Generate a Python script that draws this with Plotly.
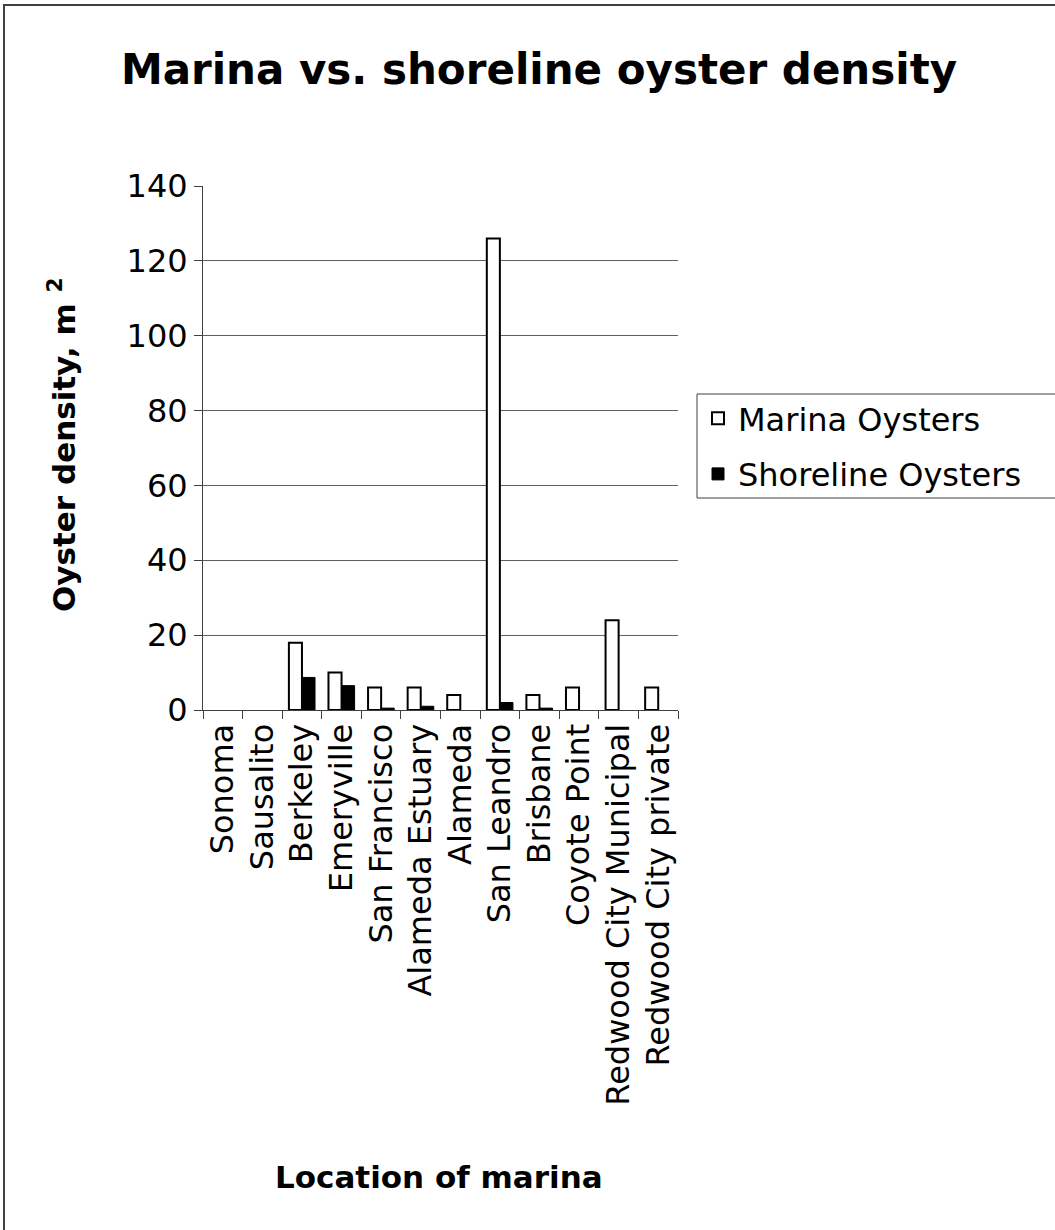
import plotly.graph_objects as go

# Marina sites, north to south
locations = ["Sonoma", "Sausalito", "Berkeley", "Emeryville", "San Francisco",
             "Alameda Estuary", "Alameda", "San Leandro", "Brisbane",
             "Coyote Point", "Redwood City Municipal", "Redwood City private"]

# Oyster density per m^2
marina_oysters = [0, 0, 18, 10, 6, 6, 4, 126, 4, 6, 24, 6]
shoreline_oysters = [0, 0, 8.7, 6.5, 0.5, 1, 0, 2, 0.5, 0, 0, 0]

W, H = 1055, 1230
L, R, T, B = 203, 678, 186, 710
pw, ph = R - L, B - T

FONT = "DejaVu Sans, Arial, sans-serif"


def nonzero(values):
    # empty sites get no bar at all (not even an outline)
    return [v if v > 0 else None for v in values]


def px_x(x):
    return (x - L) / pw


def px_y(y):
    return (B - y) / ph


fig = go.Figure()
fig.add_trace(go.Bar(
    x=locations, y=nonzero(marina_oysters), name="Marina Oysters",
    legendgroup="marina",
    marker=dict(color="white", line=dict(color="black", width=2)),
))
fig.add_trace(go.Bar(
    x=locations, y=nonzero(shoreline_oysters), name="Shoreline Oysters",
    legendgroup="shoreline",
    marker=dict(color="black", line=dict(color="black", width=1)),
))

# outer chart frame
fig.add_shape(type="rect", xref="paper", yref="paper",
              x0=px_x(4), x1=px_x(W + 10), y0=px_y(H + 10), y1=px_y(5),
              line=dict(color="#404040", width=2), fillcolor="rgba(0,0,0,0)",
              layer="below")
# legend frame, running off the right edge
fig.add_shape(type="rect", xref="paper", yref="paper",
              x0=px_x(697), x1=px_x(W + 10), y0=px_y(498), y1=px_y(394),
              line=dict(color="#404040", width=1), fillcolor="white",
              layer="below")

# axis titles
fig.add_annotation(text="<b>Location of marina</b>", xref="paper", yref="paper",
                   x=px_x(439), y=px_y(1177), xanchor="center", yanchor="middle",
                   showarrow=False, font=dict(size=31, family=FONT, color="black"))
fig.add_annotation(text="<b>Oyster density, m <sup>2</sup></b>", xref="paper", yref="paper",
                   x=px_x(62), y=px_y(445), xanchor="center", yanchor="middle",
                   textangle=-90, showarrow=False,
                   font=dict(size=31, family=FONT, color="black"))

fig.update_layout(
    width=W, height=H,
    margin=dict(l=L, r=W - R, t=T, b=H - B, autoexpand=False),
    paper_bgcolor="white", plot_bgcolor="white",
    font=dict(family=FONT, color="black", size=31),
    barmode="group", bargap=0.34, bargroupgap=0,
    title=dict(text="<b>Marina vs. shoreline oyster density</b>",
               x=539 / W, xanchor="center", y=1 - 69 / H, yanchor="middle",
               font=dict(size=42, family=FONT)),
    showlegend=True,
    legend=dict(x=px_x(698), xanchor="left", y=px_y(391), yanchor="top",
                borderwidth=0, bgcolor="rgba(0,0,0,0)",
                font=dict(size=32, family=FONT),
                traceorder="grouped", tracegroupgap=11),
    xaxis=dict(
        type="category", tickangle=-90, tickson="boundaries",
        ticks="outside", ticklen=8, tickcolor="#404040", tickwidth=1,
        showline=True, linecolor="#404040", linewidth=1,
        tickfont=dict(size=32, family=FONT),
        showgrid=False,
    ),
    yaxis=dict(
        range=[0, 140], dtick=20, tick0=0,
        ticks="outside", ticklen=8, tickcolor="#404040", tickwidth=1,
        showline=True, linecolor="#404040", linewidth=1,
        showgrid=True, gridcolor="#606060", gridwidth=1,
        zeroline=False,
        tickfont=dict(size=32, family=FONT),
    ),
)

fig.write_html("out.html")
